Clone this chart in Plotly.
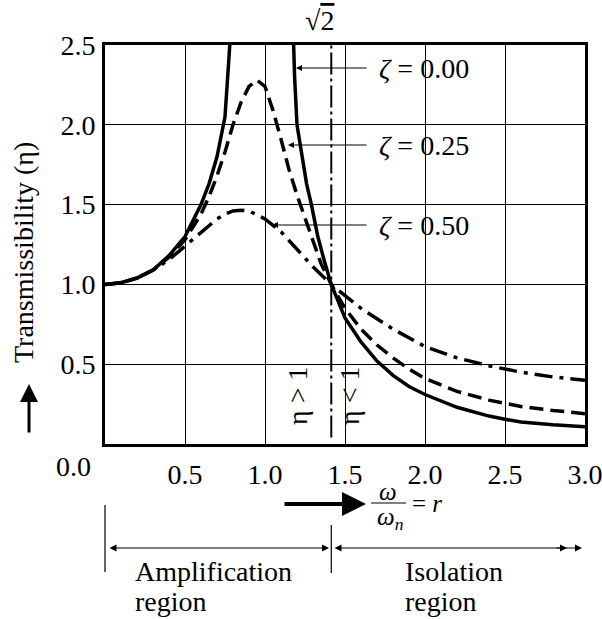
import plotly.graph_objects as go

# transmissibility curves, values
r_zeta000_low = [0.0, 0.1, 0.2, 0.3, 0.4, 0.5, 0.6, 0.65, 0.7, 0.75, 0.78, 0.8]
eta_zeta000_low = [1.0, 1.01, 1.04, 1.09, 1.18, 1.30, 1.50, 1.63, 1.80, 2.05, 2.5, 2.9]
r_zeta000_high = [1.17, 1.185, 1.2, 1.23, 1.26, 1.29, 1.33, 1.37, 1.414, 1.5, 1.6, 1.7,
                  1.8, 1.9, 2.0, 2.2, 2.4, 2.5, 2.6, 2.8, 3.0]
eta_zeta000_high = [2.8, 2.3, 2.0, 1.8, 1.63, 1.5, 1.3, 1.15, 1.0, 0.79, 0.64, 0.52,
                    0.43, 0.36, 0.31, 0.23, 0.175, 0.155, 0.138, 0.12, 0.108]

r_zeta025 = [0.0, 0.1, 0.2, 0.3, 0.4, 0.5, 0.6, 0.65, 0.7, 0.75, 0.8, 0.85, 0.9, 0.95,
             1.0, 1.05, 1.1, 1.15, 1.2, 1.25, 1.3, 1.35, 1.414, 1.5, 1.6, 1.7, 1.8,
             1.9, 2.0, 2.2, 2.4, 2.6, 2.8, 3.0]
eta_zeta025 = [1.0, 1.01, 1.04, 1.09, 1.17, 1.28, 1.44, 1.55, 1.68, 1.83, 2.0, 2.14,
               2.24, 2.28, 2.24, 2.09, 1.91, 1.72, 1.56, 1.42, 1.27, 1.13, 1.0, 0.85,
               0.72, 0.62, 0.54, 0.47, 0.41, 0.33, 0.275, 0.235, 0.21, 0.19]

r_zeta050 = [0.0, 0.1, 0.2, 0.3, 0.4, 0.5, 0.6, 0.7, 0.75, 0.8, 0.85, 0.9, 1.0, 1.1,
             1.2, 1.3, 1.414, 1.5, 1.6, 1.8, 2.0, 2.2, 2.4, 2.6, 2.8, 3.0]
eta_zeta050 = [1.0, 1.01, 1.04, 1.09, 1.155, 1.24, 1.33, 1.41, 1.44, 1.46, 1.465, 1.46,
               1.41, 1.33, 1.22, 1.11, 1.0, 0.93, 0.85, 0.72, 0.61, 0.54, 0.49, 0.45,
               0.42, 0.40]

sqrt2 = 1.4142
x_ticks = [0.5, 1.0, 1.5, 2.0, 2.5, 3.0]
y_ticks = [0.5, 1.0, 1.5, 2.0, 2.5]
zeta_labels = ["0.00", "0.25", "0.50"]

FONT = "Liberation Serif, Times New Roman, serif"
SIZE = 28
BIG = {"family": FONT, "size": SIZE, "color": "black"}

# plot area in pixels: x 105..585, y 45..444
L, R, T, B = 105, 17, 45, 175
W, H = 602, 619
PW, PH = W - L - R, H - T - B


def px(x):
    return (x - L) / PW


def py(y):
    return (T + PH - y) / PH


fig = go.Figure()

fig.add_trace(go.Scatter(
    x=r_zeta000_low + [None] + r_zeta000_high,
    y=eta_zeta000_low + [None] + eta_zeta000_high,
    mode="lines", line={"color": "black", "width": 3.5}, connectgaps=False,
))
fig.add_trace(go.Scatter(
    x=r_zeta025, y=eta_zeta025, mode="lines",
    line={"color": "black", "width": 3.5, "dash": "14px,7px"},
))
fig.add_trace(go.Scatter(
    x=r_zeta050, y=eta_zeta050, mode="lines",
    line={"color": "black", "width": 3.5, "dash": "18px,7px,4px,7px"},
))

shapes = [
    # sqrt(2) line
    dict(type="line", xref="x", yref="y", x0=sqrt2, x1=sqrt2, y0=0.04, y1=2.5,
         line={"color": "black", "width": 2, "dash": "22px,4px,3px,4px"}),
    # fraction bar
    dict(type="line", xref="paper", yref="paper", x0=px(371), x1=px(406),
         y0=py(503), y1=py(503), line={"color": "black", "width": 1.2}),
    # region separators
    dict(type="line", xref="paper", yref="paper", x0=0, x1=0,
         y0=py(505), y1=py(572), line={"color": "black", "width": 1.2}),
    dict(type="line", xref="paper", yref="paper", x0=sqrt2 / 3, x1=sqrt2 / 3,
         y0=py(525), y1=py(573), line={"color": "black", "width": 1.2}),
]

annotations = []


def arrow(x0, y0, x1, y1, width=1, head=2, size=1.2, side="end"):
    annotations.append(dict(
        xref="paper", yref="paper", axref="pixel", ayref="pixel",
        x=px(x1), y=py(y1), ax=x0 - x1, ay=y0 - y1, text="",
        showarrow=True, arrowhead=head, arrowsize=size, arrowwidth=width,
        arrowcolor="black", arrowside=side,
    ))


def label(text, x, y, xanchor="center", size=SIZE, angle=0, align="center"):
    annotations.append(dict(
        xref="paper", yref="paper", x=px(x), y=py(y), text=text,
        showarrow=False, xanchor=xanchor, yanchor="middle", textangle=angle,
        align=align, font={"family": FONT, "size": size, "color": "black"},
    ))


# zeta labels with pointers
for text, yy, tip in zip(zeta_labels, [68, 145, 225], [296, 288, 272]):
    label(f"<i>ζ</i> = {text}", 377, yy, xanchor="left")
    arrow(368, yy, tip, yy)

label("√<span style='text-decoration:overline'>2</span>", 319, 20)
label("η > 1", 297, 396, angle=-90)
label("η < 1", 349, 396, angle=-90)
label("0.0", 93, 466, xanchor="right")

# y axis title and arrow
label("Transmissibility (η)", 23, 253, angle=-90)
arrow(29, 434, 29, 384, width=3, size=1.2)

# x axis label
arrow(283, 504, 366, 504, width=4, size=1.2)
label("<i>ω</i>", 388, 491, size=25)
label("<i>ω<sub>n</sub></i>", 390, 518, size=25)
label("= <i>r</i>", 410, 503, xanchor="left", size=25)

# region arrows
arrow(108, 548, 329, 548, width=1, size=1.4, side="end+start")
arrow(333, 548, 582, 548, width=1, size=1.4, side="end+start")
arrow(555, 548, 567, 548, width=1, size=1.4)
label("Amplification", 133, 571, xanchor="left")
label("region", 133, 601, xanchor="left")
label("Isolation", 403, 571, xanchor="left")
label("region", 403, 601, xanchor="left")

axis_common = dict(
    showline=True, mirror=True, linewidth=3, linecolor="black",
    showgrid=True, gridcolor="black", gridwidth=1.2, zeroline=False,
    ticks="", tickfont=BIG, automargin=False, ticklabeloverflow="allow",
)

fig.update_layout(
    width=W, height=H,
    margin={"l": L, "r": R, "t": T, "b": B},
    paper_bgcolor="white", plot_bgcolor="white",
    showlegend=False,
    xaxis=dict(range=[0, 3], tickvals=x_ticks,
               ticktext=[f"{v:.1f}" for v in x_ticks],
               ticklabelstandoff=3, **axis_common),
    yaxis=dict(range=[0, 2.5], tickvals=y_ticks,
               ticktext=[f"{v:.1f}" for v in y_ticks],
               ticklabelstandoff=1, **axis_common),
    shapes=shapes,
    annotations=annotations,
)

# the page body has a default 8px margin; drop it so the figure fills the window
fig.write_html("out.html", config={"displayModeBar": False},
               post_script="document.body.style.margin = '0';")
